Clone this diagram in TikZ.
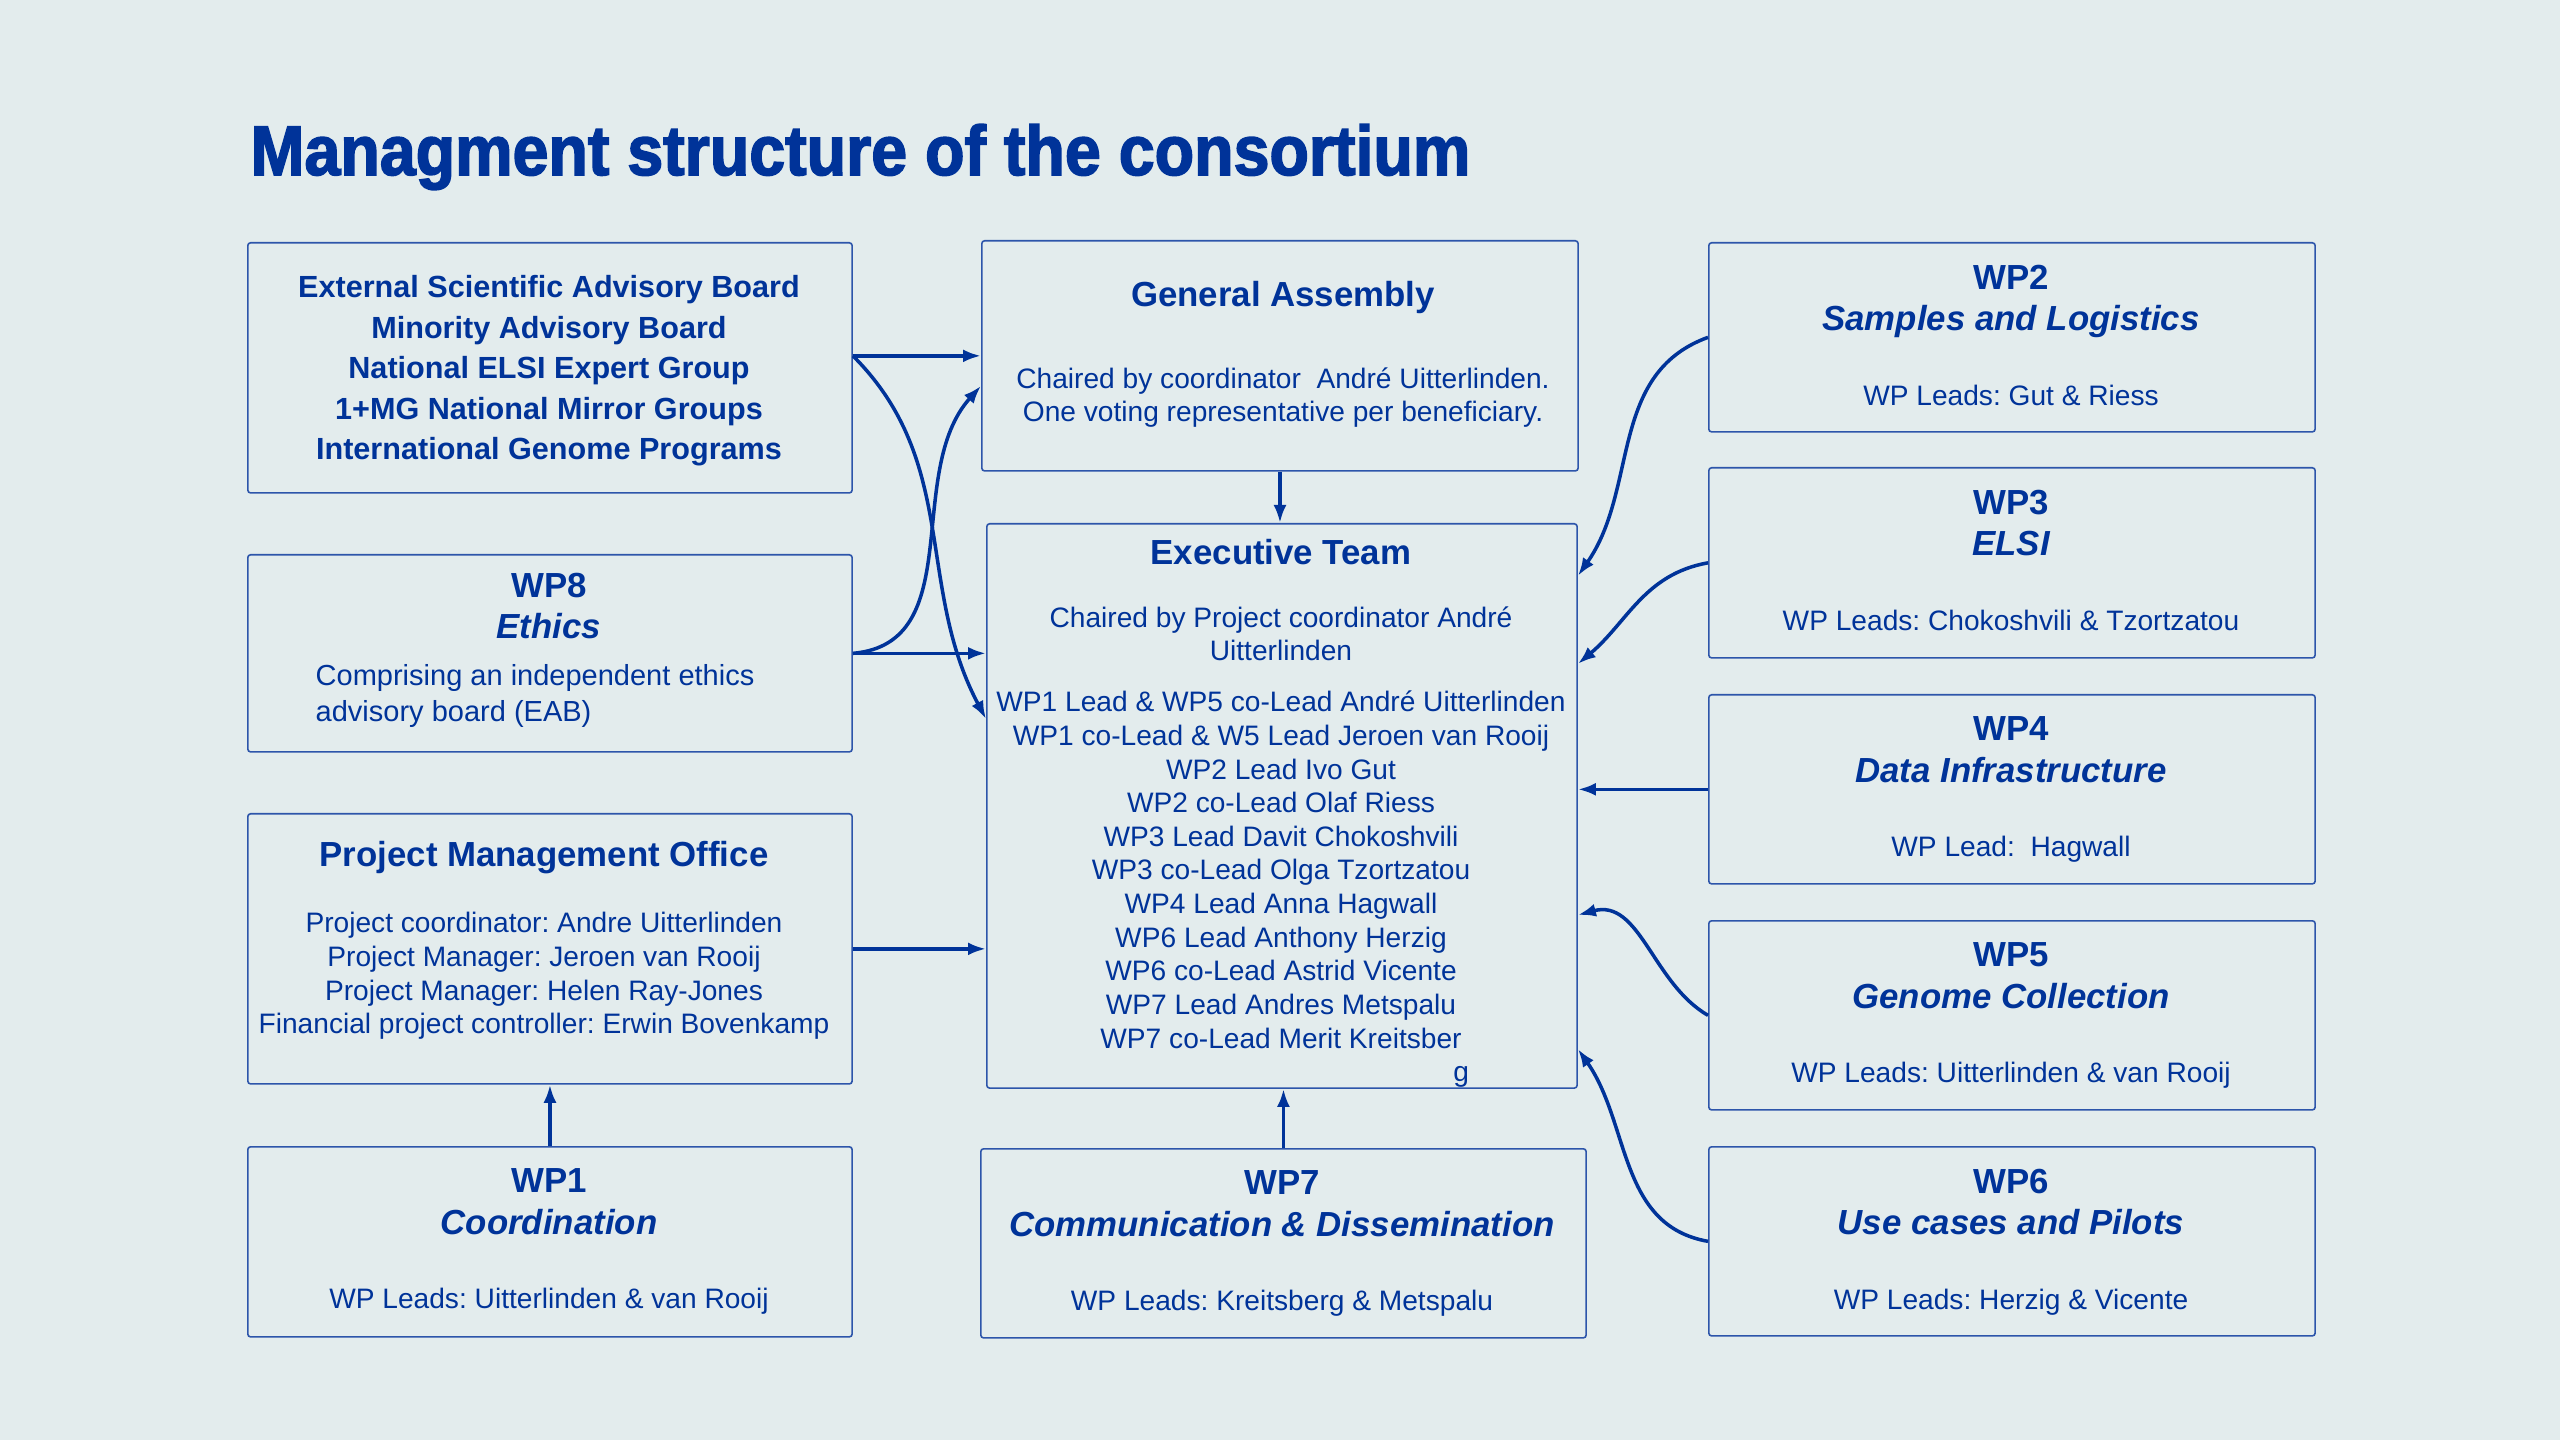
\documentclass[tikz,border=0pt]{standalone}
\usepackage{fontspec}
\setmainfont{Liberation Sans}
\newfontfamily\titlefont{Liberation Sans}[FakeStretch=0.918,FakeBold=2.2]
\usetikzlibrary{arrows.meta}
\definecolor{bgc}{RGB}{227,236,237}
\definecolor{bluec}{RGB}{0,51,153}
\definecolor{boxc}{RGB}{45,85,170}
\newcommand\hdfont{\fontsize{9.9pt}{11.9pt}\selectfont\bfseries}
\newcommand\bodyfont{\fontsize{8pt}{9.56pt}\selectfont}
\frenchspacing
\begin{document}
\begin{tikzpicture}[x=0.01cm, y=-0.01cm,
    box/.style={draw=boxc, line width=0.45pt, rounded corners=0.8pt, inner sep=0pt, anchor=north west},
    txt/.style={text=bluec, align=center, inner sep=0pt, anchor=north, font=\bodyfont},
    wp/.style={txt, font=\hdfont},
    conn/.style={draw=bluec, line width=1pt, -{Latex[length=1.8mm,width=1.3mm]}}]
                % background
                \fill[bgc] (0,0) rectangle (2560,1440);
                \useasboundingbox (0,0) rectangle (2560,1440);
                \node[anchor=base west, inner sep=0pt, text=bluec, font=\titlefont\bfseries\fontsize{20pt}{24pt}\selectfont] (title) at (250,175) {Managment structure of the consortium};
                % left column
                \node[box, minimum width=6.04cm, minimum height=2.50cm] (esab) at (247,242) {};
                \node[box, minimum width=6.04cm, minimum height=1.97cm] (wp8) at (247,554) {};
                \node[box, minimum width=6.04cm, minimum height=2.70cm] (pmo) at (247,813) {};
                \node[box, minimum width=6.04cm, minimum height=1.90cm] (wp1) at (247,1146) {};
                % middle column
                \node[box, minimum width=5.96cm, minimum height=2.30cm] (ga) at (981,240) {};
                \node[box, minimum width=5.90cm, minimum height=5.64cm] (et) at (986,523) {};
                \node[box, minimum width=6.05cm, minimum height=1.89cm] (wp7) at (980,1148) {};
                % right column
                \node[box, minimum width=6.06cm, minimum height=1.89cm] (wp2) at (1708,242) {};
                \node[box, minimum width=6.06cm, minimum height=1.90cm] (wp3) at (1708,467) {};
                \node[box, minimum width=6.06cm, minimum height=1.89cm] (wp4) at (1708,694) {};
                \node[box, minimum width=6.06cm, minimum height=1.89cm] (wp5) at (1708,920) {};
                \node[box, minimum width=6.06cm, minimum height=1.89cm] (wp6) at (1708,1146) {};
                % texts
                \node[txt, font=\fontsize{8.7pt}{11.5pt}\selectfont\bfseries] (esabtext) at (549,275) {External Scientific Advisory Board\\Minority Advisory Board\\National ELSI Expert Group\\1+MG National Mirror Groups\\International Genome Programs};
                \node[wp] (wp8text) at (549,572) {WP8\\\itshape Ethics};
                \node[txt, anchor=north west, align=left, font=\fontsize{8.25pt}{10.24pt}\selectfont] (wp8note) at (315,664) {Comprising an independent ethics\\advisory board (EAB)};
                \node[txt] (pmotext) at (544,841) {{\hdfont Project Management Office}\\[9.2pt]
                    Project coordinator: Andre Uitterlinden\\Project Manager: Jeroen van Rooij\\
                    Project Manager: Helen Ray-Jones\\Financial project controller: Erwin Bovenkamp};
                \node[wp] (wp1text) at (549,1168) {WP1\\{\itshape Coordination}\\[9.2pt]{\bodyfont\mdseries WP Leads: Uitterlinden \& van Rooij}};
                \node[txt] (gatext) at (1283,281) {{\hdfont General Assembly}\\[13.5pt]
                    Chaired by coordinator\ \ André Uitterlinden.\\One voting representative per beneficiary.};
                \node[txt] (ettext) at (1281,539) {{\hdfont Executive Team}\\[8.1pt]
                    Chaired by Project coordinator André\\Uitterlinden\\[5pt]
                    WP1 Lead \& WP5 co-Lead André Uitterlinden\\WP1 co-Lead \& W5 Lead Jeroen van Rooij\\
                    WP2 Lead Ivo Gut\\WP2 co-Lead Olaf Riess\\WP3 Lead Davit Chokoshvili\\
                    WP3 co-Lead Olga Tzortzatou\\WP4 Lead Anna Hagwall\\WP6 Lead Anthony Herzig\\
                    WP6 co-Lead Astrid Vicente\\WP7 Lead Andres Metspalu\\WP7 co-Lead Merit Kreitsber\\
                    \hspace*{3.6cm}g};
                \node[wp] (wp7text) at (1282,1170) {WP7\\{\itshape Communication \& Dissemination}\\[9.2pt]{\bodyfont\mdseries WP Leads: Kreitsberg \& Metspalu}};
                \node[wp] (wp2text) at (2011,264) {WP2\\{\itshape Samples and Logistics}\\[9.2pt]{\bodyfont\mdseries WP Leads: Gut \& Riess}};
                \node[wp] (wp3text) at (2011,489) {WP3\\{\itshape ELSI}\\[9.2pt]{\bodyfont\mdseries WP Leads: Chokoshvili \& Tzortzatou}};
                \node[wp] (wp4text) at (2011,716) {WP4\\{\itshape Data Infrastructure}\\[9.2pt]{\bodyfont\mdseries WP Lead:\ \ Hagwall}};
                \node[wp] (wp5text) at (2011,942) {WP5\\{\itshape Genome Collection}\\[9.2pt]{\bodyfont\mdseries WP Leads: Uitterlinden \& van Rooij}};
                \node[wp] (wp6text) at (2011,1168) {WP6\\{\itshape Use cases and Pilots}\\[9.2pt]{\bodyfont\mdseries WP Leads: Herzig \& Vicente}};
                % arrows on the left
                \draw[conn] (ga.west -| esab.east) -- (ga.west);
                \draw[conn] (ga.west -| esab.east) to[out=-45,in=118] ([yshift=0.87cm]et.west);
                \draw[conn] (wp8.east) to[out=5,in=-132] ([yshift=-0.30cm]ga.west);
                \draw[conn] (wp8.east) -- (wp8.east -| et.west);
                \draw[conn] (pmo.east) -- (pmo.east -| et.west);
                \draw[conn] (wp1.north) -- (pmo.south);
                % arrows in the middle
                \draw[conn] (ga.south) -- (ga.south |- et.north);
                \draw[conn] (wp7.north) -- (wp7.north |- et.south);
                % arrows on the right
                \draw[conn] (wp2.west) to[out=200,in=55] ([yshift=2.30cm]et.east);
                \draw[conn] (wp3.west) to[out=190,in=40] ([yshift=1.42cm]et.east);
                \draw[conn] (wp4.west) -- (wp4.west -| et.east);
                \draw[conn] (wp5.west) to[out=150,in=15] ([yshift=-1.09cm]et.east);
                \draw[conn] (wp6.west) to[out=170,in=-55] ([yshift=-2.43cm]et.east);
            \end{tikzpicture}
\end{document}
